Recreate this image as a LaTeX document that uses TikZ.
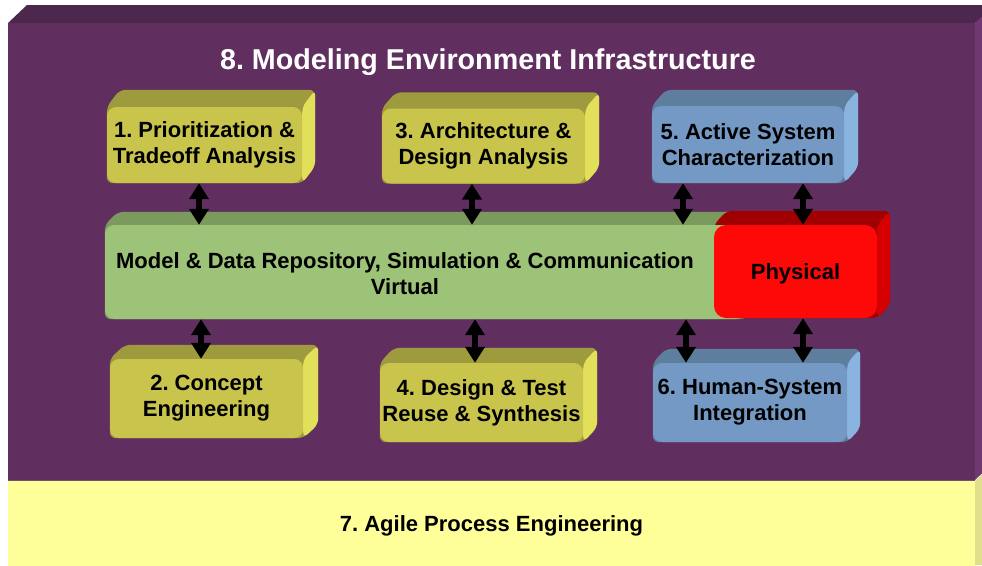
\documentclass[tikz,border=0pt]{standalone}
\usepackage{fontspec}
\setmainfont{Liberation Sans}
\usetikzlibrary{arrows.meta}
\usetikzlibrary{positioning}
\frenchspacing

\definecolor{envfront}{RGB}{97,47,95}
\definecolor{envtop}{RGB}{76,40,77}
\definecolor{envside}{RGB}{112,56,112}
\definecolor{agilefront}{RGB}{255,255,153}
\definecolor{agileside}{RGB}{224,224,138}
\definecolor{yfront}{RGB}{201,196,76}
\definecolor{ytop}{RGB}{158,154,62}
\definecolor{yside}{RGB}{226,224,90}
\definecolor{bfront}{RGB}{115,153,196}
\definecolor{btop}{RGB}{94,126,158}
\definecolor{bside}{RGB}{138,180,224}
\definecolor{gfront}{RGB}{156,195,119}
\definecolor{gtop}{RGB}{123,154,94}
\definecolor{rfront}{RGB}{255,8,8}
\definecolor{rtop}{RGB}{160,0,0}
\definecolor{rside}{RGB}{215,0,0}

\pgfdeclarelayer{bg}
\pgfdeclarelayer{faces}
\pgfsetlayers{bg,faces,main}

% top and side faces behind a front node: node, top colour, side colour, depth
\newcommand{\extrude}[4]{%
  \begin{pgfonlayer}{faces}
    \fill[#2,rounded corners=6pt] (#1.south west) -- (#1.north west) -- ([shift={#4}]#1.north west) -- ([shift={#4}]#1.north east) -- ([shift={#4}]#1.south east) -- (#1.south east) -- cycle;
    \fill[#3,rounded corners=6pt] ([shift={#4}]#1.north east) -- ([shift={#4}]#1.south east) -- (#1.south east) -- (#1.north east) -- cycle;
  \end{pgfonlayer}}

\tikzset{
  front/.style={rounded corners=9pt, inner sep=0pt, align=center, font=\bfseries\fontsize{22}{26}\selectfont},
  ybox/.style={front, fill=yfront},
  bbox/.style={front, fill=bfront},
  dbl/.style={{Triangle[width=19pt,length=16pt]}-{Triangle[width=19pt,length=16pt]}, line width=6pt},
}

\begin{document}
\begin{tikzpicture}[x=1pt,y=-1pt]
\clip (0,0) rectangle (982,565);

% environment block and agile strip
\begin{pgfonlayer}{bg}
\fill[envtop] (8,23) -- (27,5) -- (1000,5) -- (975,23) -- cycle;
\fill[envside] (975,23) -- (994,5) -- (994,462) -- (975,480) -- cycle;
\node[fill=envfront, minimum width=967pt, minimum height=457pt, inner sep=0pt] (env) at (491.5,251.5) {};
\fill[agileside] (975,481) -- (994,463) -- (994,565) -- (975,565) -- cycle;
\node[fill=agilefront, minimum width=967pt, minimum height=85pt, inner sep=0pt, text depth=0pt, font=\bfseries\fontsize{22}{26}\selectfont] (agile) at (491.5,523.5) {7. Agile Process Engineering};
\draw[envside!70!gray, line width=1.2pt] (agile.north west) -- (agile.north east);
\end{pgfonlayer}

\node[text=white, font=\bfseries\fontsize{28.7}{34}\selectfont] (envtitle) at (488,62) {8. Modeling Environment Infrastructure};

% top row
\node[ybox, minimum width=195pt, minimum height=76pt] (prio) at (204.5,145) {1. Prioritization \&\\Tradeoff Analysis};
\node[ybox, minimum width=203pt, minimum height=75pt] (arch) at (483.5,146) {3. Architecture \&\\Design Analysis};
\node[bbox, minimum width=192pt, minimum height=77pt] (active) at (748,144.5) {5. Active System\\Characterization};

% repository
\node[front, fill=gfront, minimum width=640pt, minimum height=94pt] (repo) at (425,272) {};
\node[front, fill=rfront, rounded corners=12pt, minimum width=163pt, minimum height=93pt, text depth=0pt] (phys) at (795.5,271.5) {Physical};
\node[front] (virt) at (405,274) {Model \& Data Repository, Simulation \& Communication\\Virtual};

% bottom row
\node[ybox, minimum width=193pt, minimum height=79pt] (concept) at (206.5,398.5) {2. Concept\\Engineering};
\node[ybox, minimum width=203pt, minimum height=79pt] (reuse) at (481.5,402.5) {4. Design \& Test\\Reuse \& Synthesis};
\node[bbox, minimum width=194pt, minimum height=79pt] (human) at (750,402.5) {6. Human-System\\Integration};

\extrude{prio}{ytop}{yside}{(13,-17)}
\extrude{arch}{ytop}{yside}{(14,-16)}
\extrude{active}{btop}{bside}{(14,-16)}
\extrude{repo}{gtop}{gtop}{(13,-13)}
\extrude{phys}{rtop}{rside}{(13,-14)}
\extrude{concept}{ytop}{yside}{(15,-14)}
\extrude{reuse}{ytop}{yside}{(14,-15)}
\extrude{human}{btop}{bside}{(13,-14)}

% arrow columns
\coordinate (a1) at (199,0);
\coordinate (a3) at (472,0);
\coordinate (a5) at (683,0);
\coordinate (a6) at (803,0);
\coordinate (b2) at (201,0);
\coordinate (b4) at (475,0);
\coordinate (b6) at (686,0);

\draw[dbl] (prio.south -| a1) -- (repo.north -| a1);
\draw[dbl] (arch.south -| a3) -- (repo.north -| a3);
\draw[dbl] (active.south -| a5) -- (repo.north -| a5);
\draw[dbl] (active.south -| a6) -- (phys.north -| a6);
\draw[dbl] (repo.south -| b2) -- (concept.north -| b2);
\draw[dbl] (repo.south -| b4) -- (reuse.north -| b4);
\draw[dbl] (repo.south -| b6) -- (human.north -| b6);
\draw[dbl] (phys.south -| a6) -- (human.north -| a6);

\end{tikzpicture}
\end{document}
